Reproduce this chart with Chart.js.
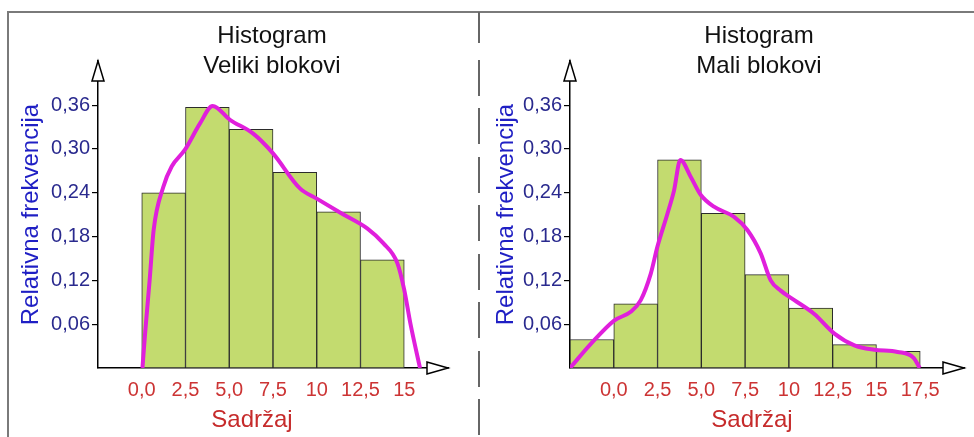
<!DOCTYPE html>
<html lang="hr">
<head>
  <meta charset="UTF-8" />
  <title>Histogram - Veliki i Mali blokovi</title>
  <script src="https://cdn.jsdelivr.net/npm/chart.js"></script>
  <style>
    body {
      margin: 0;
      background: #fff;
      font-family: "Liberation Sans", Arial, sans-serif;
    }
    #page {
      position: relative;
      width: 974px;
      height: 437px;
      overflow: hidden;
    }
    canvas {
      position: absolute;
      top: 0;
    }
    .frame {
      position: absolute;
      left: 7px;
      top: 11px;
      right: -4px;
      bottom: -4px;
      border-left: 2px solid #7a7a7a;
      border-top: 2px solid #7a7a7a;
    }
    .divider-top {
      position: absolute;
      left: 478px;
      top: 12px;
      width: 2px;
      height: 31px;
      background: #666;
    }
    .divider {
      position: absolute;
      left: 478px;
      top: 60px;
      bottom: 0;
      width: 2px;
      background: repeating-linear-gradient(to bottom, #666 0 36px, transparent 36px 48.5px);
    }
    .title {
      position: absolute;
      top: 20px;
      width: 240px;
      text-align: center;
      font-size: 24px;
      line-height: 29.5px;
      color: #111;
    }
    .xlabel {
      position: absolute;
      top: 407px;
      width: 200px;
      text-align: center;
      font-size: 24px;
      line-height: 24px;
      color: #c62b2b;
    }
  </style>
</head>
<body>
<div id="page">
  <div class="frame"></div>
  <canvas id="leftChart" width="480" height="437" style="left:0"></canvas>
  <canvas id="rightChart" width="494" height="437" style="left:480px"></canvas>
  <div class="divider-top"></div>
  <div class="divider"></div>

  <div class="title" style="left:152px">Histogram<br>Veliki blokovi</div>
  <div class="title" style="left:639px">Histogram<br>Mali blokovi</div>
  <div class="xlabel" style="left:152px">Sadržaj</div>
  <div class="xlabel" style="left:652px">Sadržaj</div>
</div>

<script>
  // podaci (relativne frekvencije po klasama sirine 2,5)
  const binWidth = 2.5;

  const leftBinStart = [0, 2.5, 5, 7.5, 10, 12.5];
  const leftFreq = [0.240, 0.357, 0.327, 0.268, 0.214, 0.148];

  const rightBinStart = [-2.5, 0, 2.5, 5, 7.5, 10, 12.5, 15];
  const rightFreq = [0.039, 0.088, 0.285, 0.212, 0.128, 0.082, 0.032, 0.023];

  // krivulja gustoce (ocitano sa slike)
  const leftCurveX = [0.04, 0.2, 0.45, 0.68, 1.23, 1.71, 2.47, 3.33, 4.05, 5.04, 6.37, 7.5, 9.04, 10, 11.4, 12.9, 13.8, 14.6, 15.0, 15.35, 15.9];
  const leftCurveY = [0, 0.05, 0.12, 0.189, 0.248, 0.276, 0.299, 0.335, 0.359, 0.340, 0.321, 0.294, 0.246, 0.232, 0.212, 0.191, 0.171, 0.144, 0.107, 0.061, 0];

  const rightCurveX = [-2.5, -1.31, 0.02, 0.97, 1.54, 2.11, 2.49, 3.06, 3.44, 3.8, 4.39, 4.97, 5.72, 6.87, 7.63, 8.39, 8.96, 9.53, 10.31, 11.45, 12.6, 13.74, 14.88, 16.21, 17.12, 17.47];
  const rightCurveY = [0, 0.033, 0.065, 0.077, 0.093, 0.129, 0.166, 0.211, 0.243, 0.285, 0.262, 0.237, 0.221, 0.207, 0.189, 0.157, 0.120, 0.106, 0.093, 0.074, 0.047, 0.031, 0.025, 0.022, 0.014, 0];

  const yTicks = [0.06, 0.12, 0.18, 0.24, 0.30, 0.36];
  const yTickLabels = ['0,06', '0,12', '0,18', '0,24', '0,30', '0,36'];

  const leftXTicks = [0, 2.5, 5, 7.5, 10, 12.5, 15];
  const leftXTickLabels = ['0,0', '2,5', '5,0', '7,5', '10', '12,5', '15'];
  const rightXTicks = [0, 2.5, 5, 7.5, 10, 12.5, 15, 17.5];
  const rightXTickLabels = ['0,0', '2,5', '5,0', '7,5', '10', '12,5', '15', '17,5'];

  Chart.defaults.font.family = '"Liberation Sans", Arial, sans-serif';

  // strelice na krajevima osi
  const axisArrows = {
    id: 'axisArrows',
    afterDraw(chart) {
      const { ctx, chartArea: a } = chart;
      ctx.save();
      ctx.fillStyle = '#fff';
      ctx.strokeStyle = '#000';
      ctx.lineWidth = 1.5;
      ctx.beginPath();
      ctx.moveTo(a.left, a.top);
      ctx.lineTo(a.left - 6, a.top + 20);
      ctx.lineTo(a.left + 6, a.top + 20);
      ctx.closePath();
      ctx.fill();
      ctx.stroke();
      ctx.beginPath();
      ctx.moveTo(a.right, a.bottom);
      ctx.lineTo(a.right - 21, a.bottom - 6);
      ctx.lineTo(a.right - 21, a.bottom + 6);
      ctx.closePath();
      ctx.fill();
      ctx.stroke();
      ctx.restore();
    }
  };

  function drawHistogram(id, c) {
    const bars = c.binStart.map((s, i) => ({ x: s + binWidth / 2, y: c.freq[i] }));
    const curve = c.curveX.map((x, i) => ({ x: x, y: c.curveY[i] }));

    return new Chart(document.getElementById(id), {
      type: 'bar',
      data: {
        datasets: [
          {
            type: 'line',
            data: curve,
            borderColor: '#e01fdc',
            borderWidth: 4,
            pointRadius: 0,
            cubicInterpolationMode: 'monotone',
            fill: false,
            order: 0
          },
          {
            type: 'bar',
            data: bars,
            backgroundColor: '#c3db6f',
            borderColor: '#2b2b2b',
            borderWidth: 1,
            borderSkipped: false,
            barPercentage: 1,
            categoryPercentage: 1,
            order: 1
          }
        ]
      },
      options: {
        responsive: false,
        animation: false,
        layout: { padding: { left: 0, top: 61, right: c.padRight, bottom: 0 } },
        plugins: {
          legend: { display: false },
          tooltip: { enabled: false }
        },
        scales: {
          x: {
            type: 'linear',
            min: -2.5,
            max: c.xMax,
            offset: false,
            afterBuildTicks: s => { s.ticks = c.xTicks.map(v => ({ value: v })); },
            afterFit: s => { s.height = 69; },
            ticks: {
              callback: (v, i) => c.xTickLabels[i],
              color: '#cc3434',
              font: { size: 20 },
              padding: 2,
              autoSkip: false,
              maxRotation: 0
            },
            grid: { display: false, offset: false },
            border: { display: true, color: '#000', width: 1.5 }
          },
          y: {
            min: 0,
            max: 0.4205,
            afterBuildTicks: s => { s.ticks = yTicks.map(v => ({ value: v })); },
            afterFit: s => { s.width = c.yWidth; },
            ticks: {
              callback: (v, i) => yTickLabels[i],
              color: '#2a2a8e',
              font: { size: 20 },
              padding: 2
            },
            grid: {
              display: true,
              drawOnChartArea: false,
              drawTicks: true,
              tickLength: 6,
              color: '#000',
              lineWidth: 1.2
            },
            border: { display: true, color: '#000', width: 1.5 },
            title: {
              display: true,
              text: 'Relativna frekvencija',
              color: '#1f1fc4',
              font: { size: 24 },
              padding: { top: c.yTitlePad, bottom: 0 }
            }
          }
        }
      },
      plugins: [axisArrows]
    });
  }

  drawHistogram('leftChart', {
    binStart: leftBinStart, freq: leftFreq,
    curveX: leftCurveX, curveY: leftCurveY,
    xTicks: leftXTicks, xTickLabels: leftXTickLabels,
    xMax: 17.5, padRight: 32, yWidth: 98, yTitlePad: 17
  });

  drawHistogram('rightChart', {
    binStart: rightBinStart, freq: rightFreq,
    curveX: rightCurveX, curveY: rightCurveY,
    xTicks: rightXTicks, xTickLabels: rightXTickLabels,
    xMax: 20, padRight: 10, yWidth: 90, yTitlePad: 12
  });
</script>
</body>
</html>
